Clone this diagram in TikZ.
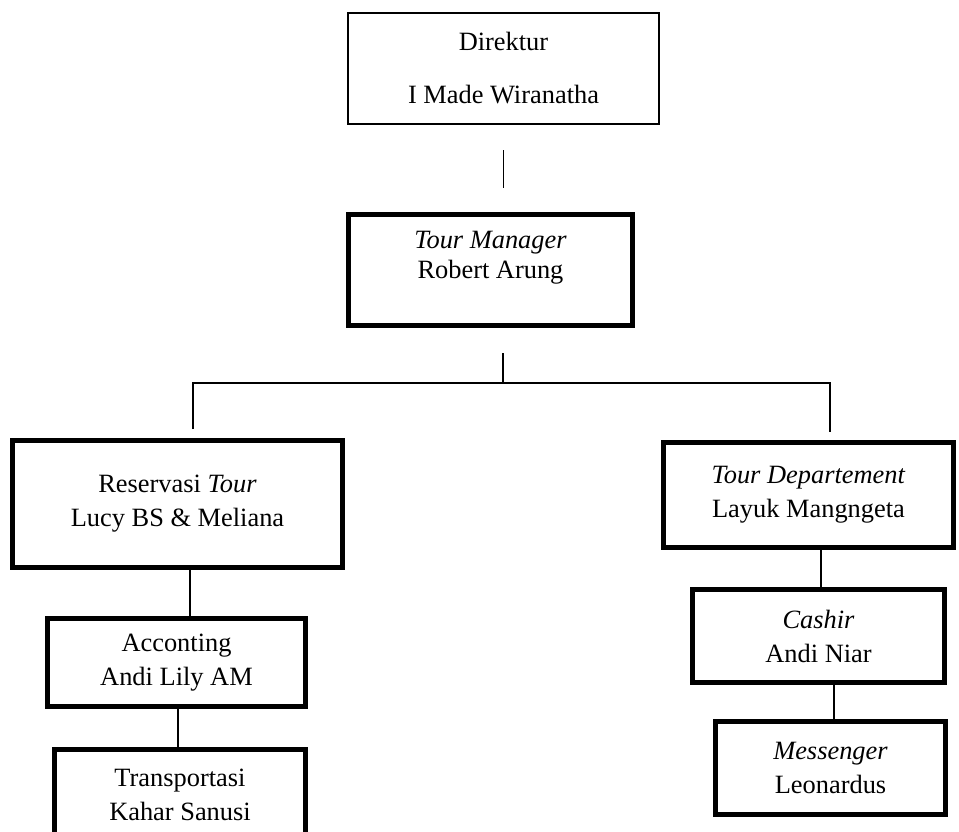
\documentclass[tikz,border=0pt]{standalone}
\usepackage{fontspec}
\setmainfont{Liberation Serif}
\usepackage{tikz}

\begin{document}
\begin{tikzpicture}[x=1pt, y=-1pt,
        unit/.style={draw, line width=5pt, align=center, inner sep=0pt,
            font=\fontsize{26.4}{34}\selectfont},
        link/.style={line width=1.5pt}]
        \useasboundingbox (0,0) rectangle (959,832);
        \clip (0,0) rectangle (959,832);

        \node[unit, line width=1.6pt, minimum width=311.5pt, minimum height=111.5pt] (dir) at (503.5,68.5) {Direktur\\[19pt]I Made Wiranatha};
        \node[unit, minimum width=284pt, minimum height=111pt, font=\fontsize{26.4}{30}\selectfont] (tm) at (490.5,270) {\textit{Tour Manager}\\Robert Arung\\\mbox{}};

        \node[unit, minimum width=330pt, minimum height=127pt] (res) at (177.5,504) {Reservasi \textit{Tour}\\Lucy BS \& Meliana};
        \node[unit, minimum width=290pt, minimum height=105pt] (td) at (808.5,495) {\textit{Tour Departement}\\Layuk Mangngeta};

        \node[unit, minimum width=258pt, minimum height=88pt] (acc) at (176.5,662.5) {Acconting\\Andi Lily AM};
        \node[unit, minimum width=251pt, minimum height=90pt] (tra) at (180,794.5) {Transportasi\\Kahar Sanusi};

        \node[unit, minimum width=252pt, minimum height=93pt] (cash) at (818.5,636) {\textit{Cashir}\\Andi Niar};
        \node[unit, minimum width=230pt, minimum height=93pt] (mes) at (830.5,768) {\textit{Messenger}\\Leonardus};

        % garis penghubung
        \draw[link] (dir.south) ++(0,25) -- ++(0,38);

        \coordinate (split) at (503,383);
        \draw[link] (split) ++(0,-30) -- (split);
        \draw[link] ([xshift=15.5pt, yshift=9pt]res.north) |- (split) -| ([xshift=21.5pt, yshift=8pt]td.north);

        \draw[link] ([xshift=12.5pt]res.south) -- ([xshift=12.5pt]res.south |- acc.north);
        \draw[link] ([xshift=1.5pt]acc.south) -- ([xshift=1.5pt]acc.south |- tra.north);
        \draw[link] ([xshift=12.5pt]td.south) -- ([xshift=12.5pt]td.south |- cash.north);
        \draw[link] ([xshift=15.5pt]cash.south) -- ([xshift=15.5pt]cash.south |- mes.north);
    \end{tikzpicture}
\end{document}
